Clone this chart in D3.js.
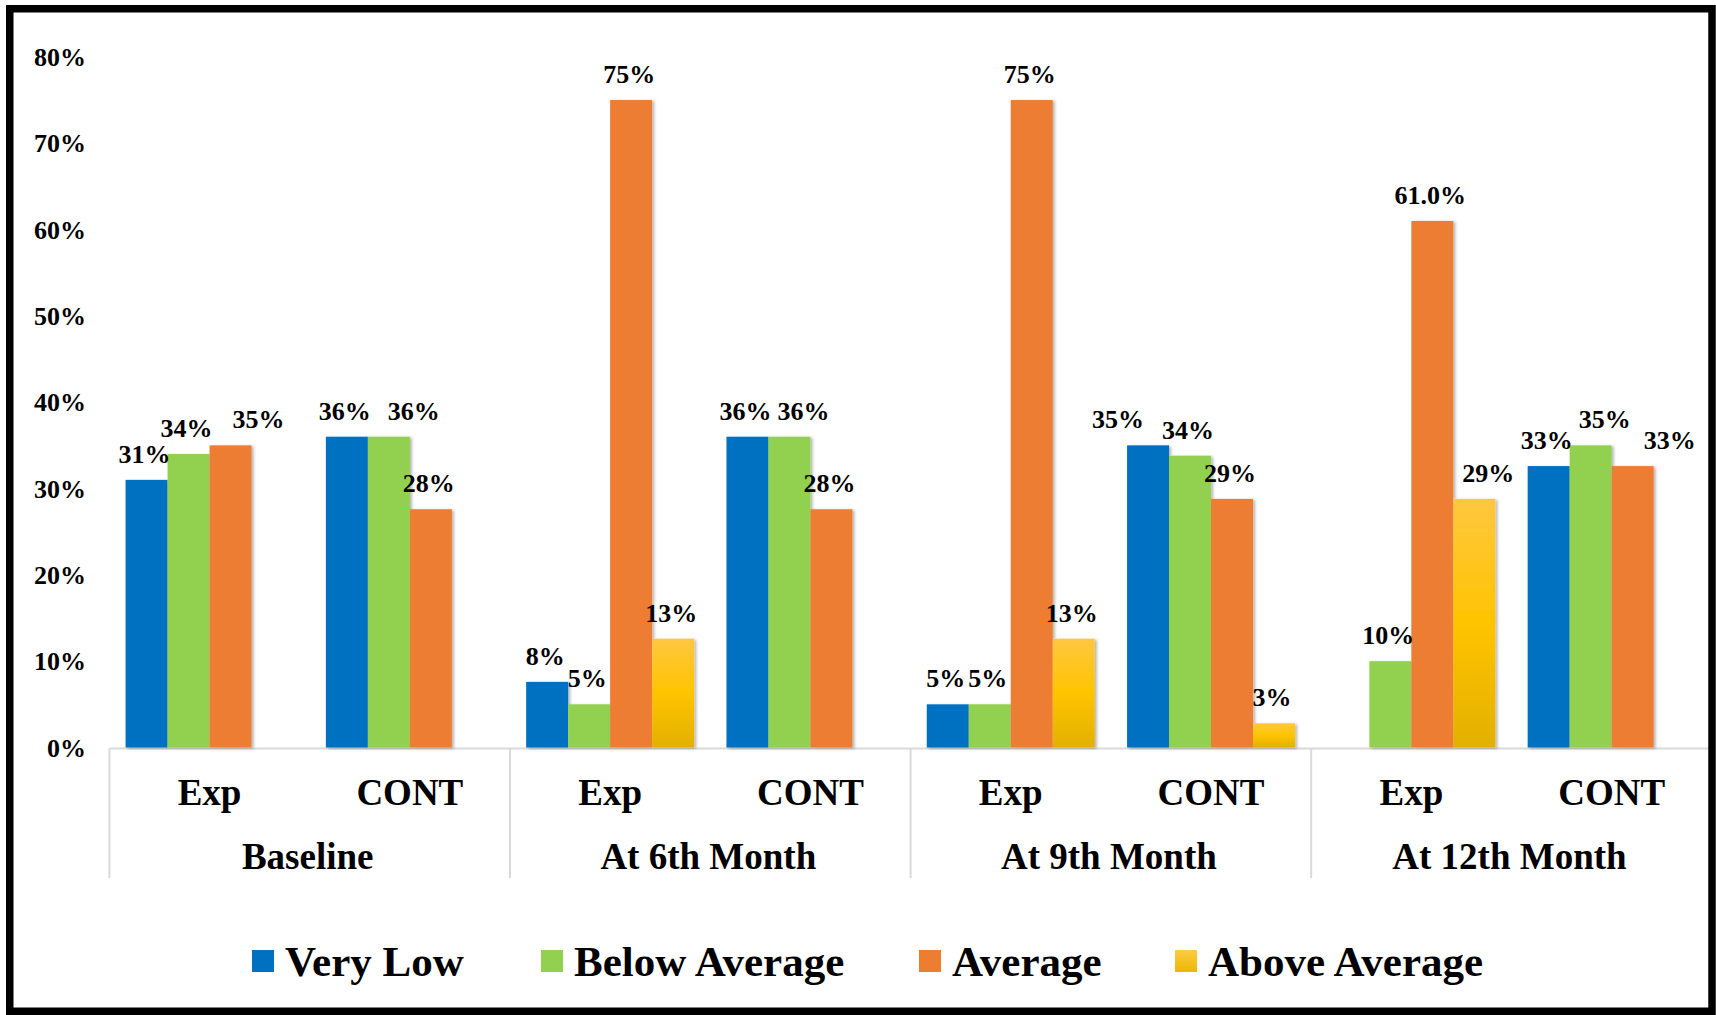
<!DOCTYPE html>
<html>
<head>
<meta charset="utf-8">
<script src="https://cdn.jsdelivr.net/npm/d3@7"></script>
<style>
  html, body { margin: 0; padding: 0; background: #fff; }
  svg text { font-family: "Liberation Serif", "Times New Roman", serif; font-weight: bold; fill: #000; }
</style>
</head>
<body>
<svg id="chart" width="1716" height="1015"></svg>
<script>
// Assessment periods and study arms (two-level category axis)
const periods = ["Baseline", "At 6th Month", "At 9th Month", "At 12th Month"];
const arms = ["Exp", "CONT"];
const levels = ["Very Low", "Below Average", "Average", "Above Average"];

// Percent of participants per level, in period × arm order (null = no bar)
const veryLow      = [31, 36, 7.6, 36, 5, 35, null, 32.6];
const belowAverage = [34, 36, 5, 36, 5, 33.8, 10, 35];
const average      = [35, 27.6, 75, 27.6, 75, 28.8, 61, 32.6];
const aboveAverage = [null, null, 12.6, null, 12.6, 2.8, 28.8, null];

// Y axis tick values (fractions)
const yTicks = [0, 0.1, 0.2, 0.3, 0.4, 0.5, 0.6, 0.7, 0.8];

// Labels shown with one decimal place: [column index, level index]
const oneDecimalLabels = [[6, 2]];

// Horizontal nudges for data labels that sit beside neighbouring labels
const labelNudge = { "0-2": 30, "1-1": 27, "3-1": 16, "5-0": -28, "6-3": 16, "7-1": 16, "7-2": 39 };

const colors = ["#0070C0", "#92D050", "#ED7D31", "url(#goldGrad)"];
const legendColors = ["#0070C0", "#92D050", "#ED7D31", "url(#goldGradLegend)"];

const seriesValues = [veryLow, belowAverage, average, aboveAverage];
const columns = [];
periods.forEach((p, pi) => arms.forEach((a, ai) => columns.push({ key: pi + "-" + ai, period: p, arm: a, idx: pi * 2 + ai })));

const svg = d3.select("#chart");
const W = 1716, H = 1015;

const defs = svg.append("defs");
const grad = defs.append("linearGradient").attr("id", "goldGrad")
  .attr("x1", 0).attr("y1", 0).attr("x2", 0).attr("y2", 1);
grad.append("stop").attr("offset", "0%").attr("stop-color", "#FFC740");
grad.append("stop").attr("offset", "50%").attr("stop-color", "#FFC400");
grad.append("stop").attr("offset", "100%").attr("stop-color", "#E3B000");
const grad2 = defs.append("linearGradient").attr("id", "goldGradLegend")
  .attr("x1", 0).attr("y1", 0).attr("x2", 0).attr("y2", 1);
grad2.append("stop").attr("offset", "0%").attr("stop-color", "#FFCA45");
grad2.append("stop").attr("offset", "100%").attr("stop-color", "#EBB800");

const shadow = defs.append("filter").attr("id", "barShadow")
  .attr("x", "-10%").attr("y", "-10%").attr("width", "130%").attr("height", "120%");
shadow.append("feDropShadow").attr("dx", 2).attr("dy", 1).attr("stdDeviation", 1.6)
  .attr("flood-color", "#000").attr("flood-opacity", 0.3);

// Scales
const plotLeft = 109.4, plotRight = 1711.8;
const baseY = 747.5, topY = 56.9;
const y = d3.scaleLinear().domain([0, 0.8]).range([baseY, topY]);
const xPeriod = d3.scaleBand().domain(periods).range([plotLeft, plotRight]).padding(0);
const xArm = d3.scaleBand().domain(arms).range([0, xPeriod.bandwidth()]).padding(0);
const xLevel = d3.scaleBand().domain(levels).range([0, xArm.bandwidth()]).paddingInner(0).paddingOuter(0.385);

const colX = c => xPeriod(c.period) + xArm(c.arm);

// Y axis labels
const yAxis = d3.axisLeft(y).tickValues(yTicks).tickFormat(d3.format(".0%")).tickSize(0).tickPadding(0);
const yg = svg.append("g").attr("transform", "translate(86,0)").call(yAxis);
yg.select(".domain").remove();
yg.selectAll("text").attr("font-size", 26).attr("dy", null).attr("dominant-baseline", "central")
  .style("font-family", "'Liberation Serif','Times New Roman',serif").style("font-weight", "bold").attr("fill", "#000");

// Category axis: baseline rule and period separators
svg.append("line").attr("x1", plotLeft).attr("x2", plotRight).attr("y1", baseY + 1).attr("y2", baseY + 1)
  .attr("stroke", "#D9D9D9").attr("stroke-width", 2);
const sepX = periods.map(p => xPeriod(p)).concat([plotRight]);
svg.append("g").selectAll("line").data(sepX).join("line")
  .attr("x1", d => d).attr("x2", d => d).attr("y1", baseY + 1).attr("y2", 878)
  .attr("stroke", "#D9D9D9").attr("stroke-width", 2);

// Bars
const barData = [];
columns.forEach(c => levels.forEach((lv, li) => {
  const v = seriesValues[li][c.idx];
  if (v !== null && v !== undefined) barData.push({ col: c, level: lv, li, v: v / 100 });
}));

svg.append("g").attr("filter", "url(#barShadow)").selectAll("rect").data(barData).join("rect")
  .attr("x", d => colX(d.col) + xLevel(d.level))
  .attr("width", xLevel.bandwidth())
  .attr("y", d => y(d.v))
  .attr("height", d => baseY - y(d.v))
  .attr("fill", d => colors[d.li]);

// Data labels
const fmt0 = d3.format(".0%"), fmt1 = d3.format(".1%");
const isOneDecimal = d => oneDecimalLabels.some(([ci, li]) => ci === d.col.idx && li === d.li);
svg.append("g").selectAll("text").data(barData).join("text")
  .attr("x", d => colX(d.col) + xLevel(d.level) + xLevel.bandwidth() / 2 - 2 + (labelNudge[d.col.idx + "-" + d.li] || 0))
  .attr("y", d => y(d.v) - 17)
  .attr("text-anchor", "middle")
  .attr("font-size", 26)
  .text(d => (isOneDecimal(d) ? fmt1 : fmt0)(d.v));

// Arm labels and period labels
svg.append("g").selectAll("text").data(columns).join("text")
  .attr("x", c => colX(c) + xArm.bandwidth() / 2)
  .attr("y", 805)
  .attr("text-anchor", "middle")
  .attr("font-size", 37)
  .text(c => c.arm);
svg.append("g").selectAll("text").data(periods).join("text")
  .attr("x", p => xPeriod(p) + xPeriod.bandwidth() / 2 - 2)
  .attr("y", 869)
  .attr("text-anchor", "middle")
  .attr("font-size", 37)
  .text(p => p);

// Legend
const legendX = [252, 541, 919, 1175];
const lg = svg.append("g").selectAll("g").data(levels).join("g")
  .attr("transform", (d, i) => `translate(${legendX[i]},0)`);
lg.append("rect").attr("x", 0).attr("y", 950).attr("width", 22).attr("height", 22)
  .attr("fill", (d, i) => legendColors[i]);
lg.append("text").attr("x", 33).attr("y", 976).attr("font-size", 43).text(d => d);

// Outer frame
svg.append("rect").attr("x", 9.75).attr("y", 8.75).attr("width", W - 9.75 - 4).attr("height", H - 8.75 - 3.75)
  .attr("fill", "none").attr("stroke", "#000").attr("stroke-width", 7.5);
</script>
</body>
</html>
